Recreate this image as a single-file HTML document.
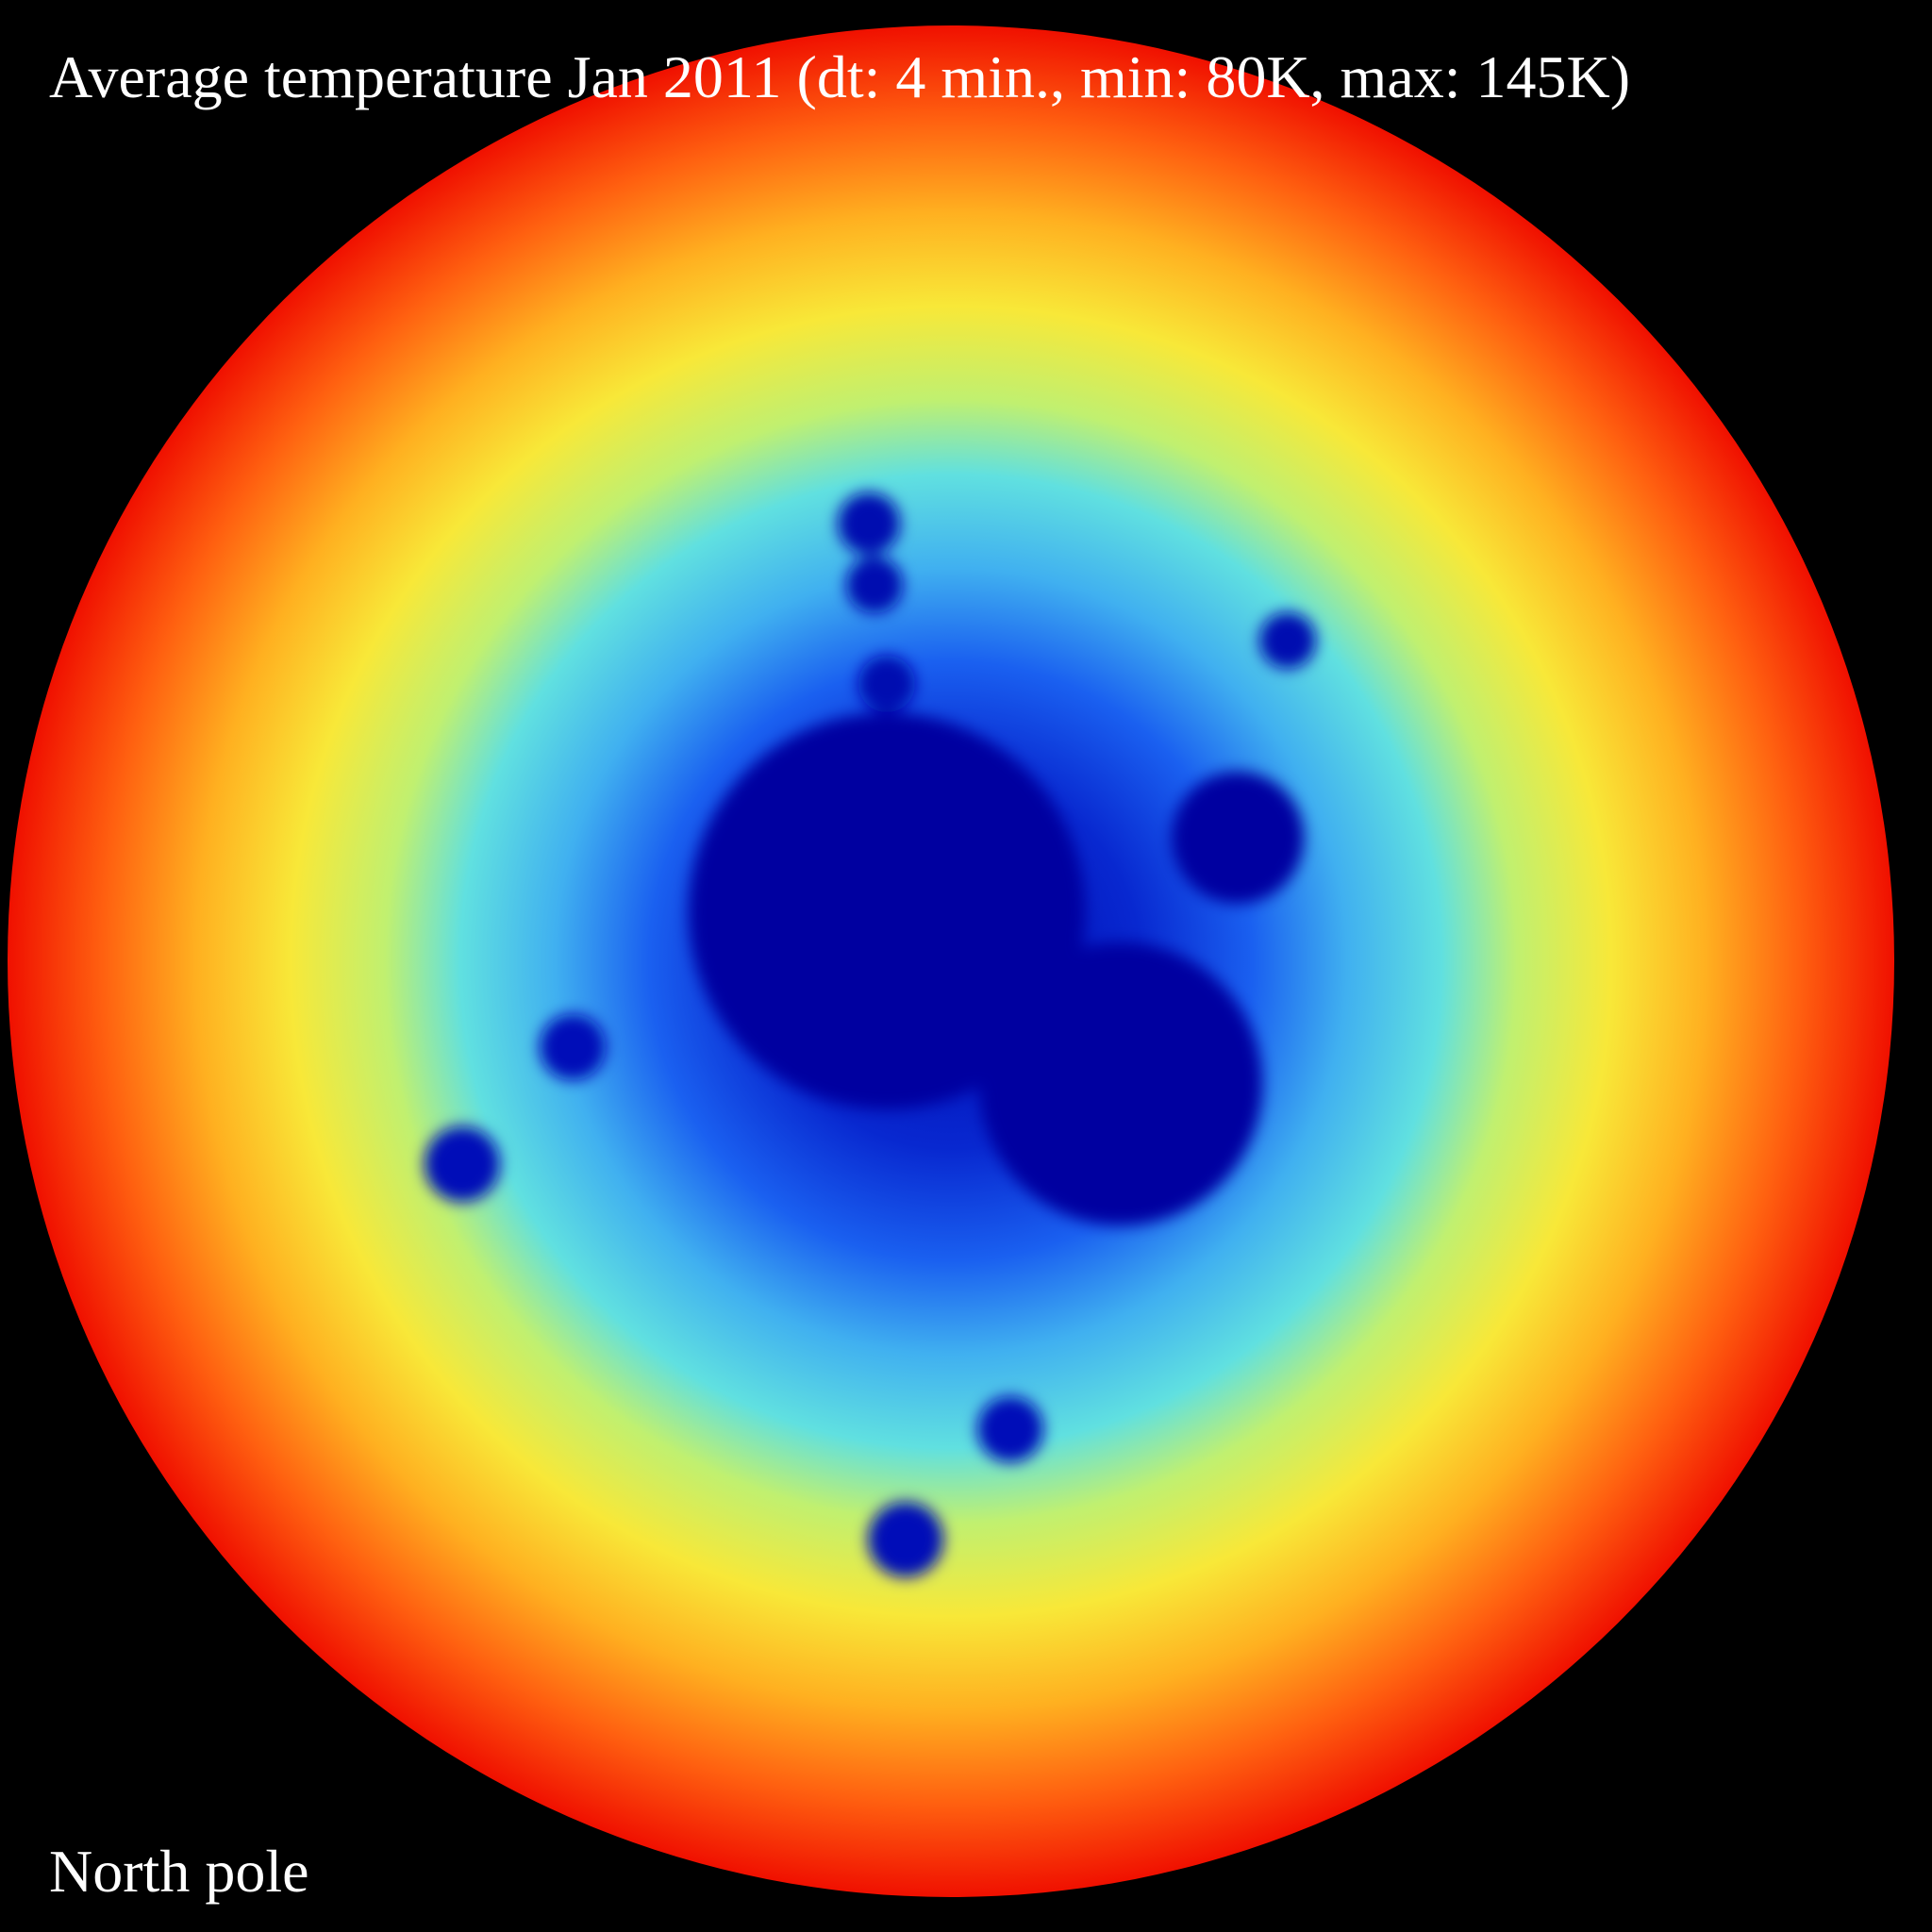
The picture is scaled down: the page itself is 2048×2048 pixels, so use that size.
<!DOCTYPE html>
<html><head><meta charset="utf-8"><style>
html,body{margin:0;padding:0;background:#000;width:2048px;height:2048px;overflow:hidden}
svg{display:block}
</style></head><body>
<svg width="2048" height="2048" viewBox="0 0 2048 2048">
<defs>
<radialGradient id="temp" cx="0.5" cy="0.5" r="0.5">
<stop offset="0" stop-color="#0008b0"/>
<stop offset="0.2" stop-color="#0828d0"/>
<stop offset="0.32" stop-color="#1a60f0"/>
<stop offset="0.42" stop-color="#40b0f0"/>
<stop offset="0.52" stop-color="#60e0e0"/>
<stop offset="0.6" stop-color="#c0f070"/>
<stop offset="0.7" stop-color="#f8e838"/>
<stop offset="0.8" stop-color="#ffb020"/>
<stop offset="0.9" stop-color="#ff6010"/>
<stop offset="1" stop-color="#f01000"/>
</radialGradient>
<filter id="blur"><feGaussianBlur stdDeviation="8"/></filter>
</defs>
<rect width="2048" height="2048" fill="#000"/>
<ellipse cx="1008" cy="1019" rx="1000" ry="992" fill="url(#temp)"/>
<g id="blobs" filter="url(#blur)"></g>
<text x="52" y="103" fill="#fff" font-family="Liberation Serif, serif" font-size="64">Average temperature Jan 2011 (dt: 4 min., min: 80K, max: 145K)</text>
<text x="52" y="2005" fill="#fff" font-family="Liberation Serif, serif" font-size="64">North pole</text>
</svg>
<script>
// cold region blobs: centre x, y (image px), radius, colour
const blobX = [940, 1188, 1312, 921, 927, 1365, 940, 490, 607, 1071, 960];
const blobY = [966, 1149, 888, 555, 620, 679, 725, 1234, 1110, 1515, 1632];
const blobR = [210, 150, 70, 33, 30, 30, 30, 40, 35, 35, 40];
const blobC = ['#0000a0','#0000a0','#0000a0','#0010b0','#0010b0','#0010b0','#0010b0','#0010b8','#0010b8','#0010b8','#0010b8'];
const g = document.getElementById('blobs');
for (let i = 0; i < blobX.length; i++) {
  const c = document.createElementNS('http://www.w3.org/2000/svg', 'circle');
  c.setAttribute('cx', blobX[i]);
  c.setAttribute('cy', blobY[i]);
  c.setAttribute('r', blobR[i]);
  c.setAttribute('fill', blobC[i]);
  
  
  g.appendChild(c);
}
</script>
</body></html>
